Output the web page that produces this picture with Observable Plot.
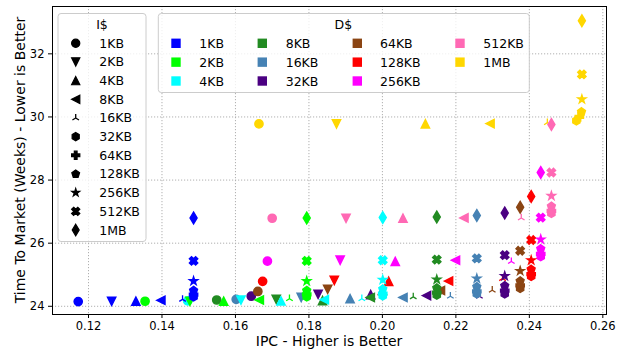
<!DOCTYPE html>
<html>
<head>
<meta charset="utf-8">
<script src="https://cdn.jsdelivr.net/npm/d3@7"></script>
<script src="https://cdn.jsdelivr.net/npm/@observablehq/plot@0.6"></script>
<style>
  body { margin: 0; background: #ffffff; }
  #chart { width: 622px; height: 350px; }
</style>
</head>
<body>
<div id="chart"></div>
<script>
// ---------------- data ----------------
const icacheSizes = ["1KB", "2KB", "4KB", "8KB", "16KB", "32KB", "64KB", "128KB", "256KB", "512KB", "1MB"];
const dcacheSizes = ["1KB", "2KB", "4KB", "8KB", "16KB", "32KB", "64KB", "128KB", "256KB", "512KB", "1MB"];
const dcacheColors = ["#0000ff", "#00ff00", "#00ffff", "#228b22", "#4682b4", "#4b0082", "#8b4513", "#ff0000", "#ff00ff", "#ff69b4", "#ffd700"];
const xTicks = [0.12, 0.14, 0.16, 0.18, 0.20, 0.22, 0.24, 0.26];
const yTicks = [24, 26, 28, 30, 32];

// IPC and time-to-market for each D$ size, listed in I$ order (1KB ... 1MB)
const ipcD1KB   = [0.1172, 0.1263, 0.1329, 0.1397, 0.1456, 0.1486, 0.1486, 0.1486, 0.1486, 0.1486, 0.1486];
const ttmD1KB   = [24.15, 24.16, 24.16, 24.19, 24.22, 24.30, 24.37, 24.50, 24.80, 25.44, 26.80];
const ipcD2KB   = [0.1354, 0.1476, 0.1568, 0.1665, 0.1747, 0.1794, 0.1794, 0.1794, 0.1794, 0.1794, 0.1794];
const ttmD2KB   = [24.16, 24.16, 24.16, 24.20, 24.24, 24.30, 24.38, 24.50, 24.80, 25.44, 26.80];
const ipcD4KB   = [0.1470, 0.1615, 0.1724, 0.1842, 0.1944, 0.2001, 0.2001, 0.2001, 0.2001, 0.2001, 0.2001];
const ttmD4KB   = [24.17, 24.20, 24.17, 24.21, 24.24, 24.33, 24.40, 24.55, 24.84, 25.46, 26.81];
const ipcD8KB   = [0.1549, 0.1711, 0.1837, 0.1967, 0.2084, 0.2148, 0.2148, 0.2148, 0.2148, 0.2148, 0.2148];
const ttmD8KB   = [24.20, 24.22, 24.18, 24.28, 24.30, 24.36, 24.43, 24.58, 24.85, 25.48, 26.83];
const ipcD16KB  = [0.1602, 0.1779, 0.1912, 0.2056, 0.2185, 0.2257, 0.2257, 0.2257, 0.2257, 0.2257, 0.2257];
const ttmD16KB  = [24.22, 24.28, 24.24, 24.28, 24.32, 24.40, 24.47, 24.62, 24.88, 25.52, 26.88];
const ipcD32KB  = [0.1643, 0.1825, 0.1968, 0.2120, 0.2264, 0.2333, 0.2333, 0.2333, 0.2333, 0.2333, 0.2333];
const ttmD32KB  = [24.32, 24.38, 24.37, 24.34, 24.32, 24.40, 24.50, 24.65, 24.96, 25.62, 26.96];
const ipcD64KB  = [0.1661, 0.1851, 0.2000, 0.2158, 0.2299, 0.2375, 0.2375, 0.2375, 0.2375, 0.2375, 0.2375];
const ttmD64KB  = [24.47, 24.54, 24.50, 24.50, 24.51, 24.57, 24.66, 24.80, 25.12, 25.76, 27.14];
const ipcD128KB = [0.1674, 0.1869, 0.2017, 0.2180, 0.2327, 0.2405, 0.2405, 0.2405, 0.2405, 0.2405, 0.2405];
const ttmD128KB = [24.79, 24.82, 24.79, 24.80, 24.88, 24.95, 25.02, 25.17, 25.46, 26.10, 27.48];
const ipcD256KB = [0.1687, 0.1885, 0.2035, 0.2199, 0.2351, 0.2431, 0.2431, 0.2431, 0.2431, 0.2431, 0.2431];
const ttmD256KB = [25.43, 25.46, 25.42, 25.46, 25.42, 25.58, 25.66, 25.82, 26.12, 26.81, 28.24];
const ipcD512KB = [0.1700, 0.1901, 0.2056, 0.2222, 0.2378, 0.2460, 0.2460, 0.2460, 0.2460, 0.2460, 0.2460];
const ttmD512KB = [26.79, 26.79, 26.79, 26.80, 26.80, 26.95, 27.02, 27.17, 27.50, 28.24, 29.76];
const ipcD1MB   = [0.1664, 0.1875, 0.2117, 0.2293, 0.2449, 0.2528, 0.2536, 0.2542, 0.2543, 0.2543, 0.2543];
const ttmD1MB   = [29.78, 29.78, 29.78, 29.79, 29.82, 29.88, 30.00, 30.16, 30.56, 31.35, 33.05];

const ipcByD = [ipcD1KB, ipcD2KB, ipcD4KB, ipcD8KB, ipcD16KB, ipcD32KB, ipcD64KB, ipcD128KB, ipcD256KB, ipcD512KB, ipcD1MB];
const ttmByD = [ttmD1KB, ttmD2KB, ttmD4KB, ttmD8KB, ttmD16KB, ttmD32KB, ttmD64KB, ttmD128KB, ttmD256KB, ttmD512KB, ttmD1MB];

// ---------------- marker shapes (matplotlib-like) ----------------
const U = 4.1;
function poly(c, pts) {
  c.moveTo(pts[0][0], pts[0][1]);
  for (let k = 1; k < pts.length; k++) c.lineTo(pts[k][0], pts[k][1]);
  c.closePath();
}
function regularPts(n, r, inner) {
  const pts = [];
  if (inner) {
    for (let k = 0; k < 2 * n; k++) {
      const a = -Math.PI / 2 + k * Math.PI / n;
      const rr = k % 2 ? r * inner : r;
      pts.push([rr * Math.cos(a), rr * Math.sin(a)]);
    }
  } else {
    for (let k = 0; k < n; k++) {
      const a = -Math.PI / 2 + k * 2 * Math.PI / n;
      pts.push([r * Math.cos(a), r * Math.sin(a)]);
    }
  }
  return pts;
}
const plusPts = [[-1,-3],[1,-3],[1,-1],[3,-1],[3,1],[1,1],[1,3],[-1,3],[-1,1],[-3,1],[-3,-1],[-1,-1]].map(([a,b]) => [a * U / 3, b * U / 3]);
const xPts = [[-1,-2],[0,-1],[1,-2],[2,-1],[1,0],[2,1],[1,2],[0,1],[-1,2],[-2,1],[-1,0],[-2,-1]].map(([a,b]) => [a * U / 2, b * U / 2]);
const L = 2 * U;
const markerShapes = [
  {draw(c) { c.moveTo(U, 0); c.arc(0, 0, U, 0, 2 * Math.PI); c.closePath(); }},          // o
  {draw(c) { poly(c, [[0, U], [-U, -U], [U, -U]]); }},                                    // v
  {draw(c) { poly(c, [[0, -U], [-U, U], [U, U]]); }},                                     // ^
  {draw(c) { poly(c, [[-U, 0], [U, -U], [U, U]]); }},                                     // <
  {draw(c) { c.moveTo(0, 0); c.lineTo(0, -U); c.moveTo(0, 0); c.lineTo(0.8 * U, 0.5 * U); c.moveTo(0, 0); c.lineTo(-0.8 * U, 0.5 * U); }}, // 2
  {draw(c) { poly(c, regularPts(6, U)); }},                                               // h
  {draw(c) { poly(c, plusPts); }},                                                        // P
  {draw(c) { poly(c, regularPts(5, U)); }},                                               // p
  {draw(c) { poly(c, regularPts(5, U, 0.381966)); }},                                     // *
  {draw(c) { poly(c, xPts); }},                                                           // X
  {draw(c) { poly(c, [[0, -0.7071 * L], [0.6 * 0.7071 * L, 0], [0, 0.7071 * L], [-0.6 * 0.7071 * L, 0]]); }} // d
];
const lineMarker = 4;

// ---------------- points table ----------------
const points = [];
icacheSizes.forEach((ic, i) => {
  dcacheSizes.forEach((dc, j) => {
    points.push({ic, i, dc, j, ipc: ipcByD[j][i], ttm: ttmByD[j][i], color: dcacheColors[j]});
  });
});

const dotMarks = icacheSizes.map((ic, i) => Plot.dot(points.filter(p => p.i === i), {
  x: "ipc", y: "ttm",
  symbol: markerShapes[i], r: 4.5,
  fill: i === lineMarker ? "none" : (d => d.color),
  stroke: d => d.color,
  strokeWidth: i === lineMarker ? 1.3 : 1.5
}));

const chart = Plot.plot({
  width: 622, height: 350,
  marginLeft: 52, marginRight: 16, marginTop: 6, marginBottom: 36,
  style: {fontFamily: "DejaVu Sans, sans-serif", fontSize: "11.5px", background: "#ffffff", color: "#000000", overflow: "visible"},
  x: {domain: [0.1102, 0.261], ticks: xTicks, tickFormat: d => d.toFixed(2), label: null, tickSize: 4, tickPadding: 3},
  y: {domain: [23.74, 33.5], ticks: yTicks, tickFormat: d => String(d), label: null, tickSize: 4, tickPadding: 4},
  color: {type: "identity"},
  marks: [
    Plot.ruleX(xTicks, {stroke: "#b0b0b0", strokeWidth: 1, strokeDasharray: "1.2,1.8"}),
    Plot.ruleY(yTicks, {stroke: "#b0b0b0", strokeWidth: 1, strokeDasharray: "1.2,1.8"}),
    ...dotMarks,
    Plot.frame({stroke: "#000000", strokeWidth: 1})
  ]
});
document.getElementById("chart").appendChild(chart);

// ---------------- legends & axis labels ----------------
const svg = d3.select(chart);
function pathFor(shape) { const p = d3.path(); shape.draw(p, 0); return p.toString(); }

// I$ legend
const gI = svg.append("g").attr("font-family", "DejaVu Sans, sans-serif").attr("font-size", "12.5px").attr("text-anchor", "start");
gI.append("rect").attr("x", 58).attr("y", 13.5).attr("width", 88).attr("height", 228)
  .attr("rx", 3).attr("fill", "#ffffff").attr("fill-opacity", 0.8).attr("stroke", "#cccccc").attr("stroke-width", 1);
gI.append("text").attr("x", 102).attr("y", 24).attr("dy", "0.36em").attr("text-anchor", "middle").text("I$");
icacheSizes.forEach((ic, i) => {
  const cy = 43.3 + i * 18.67;
  gI.append("path").attr("d", pathFor(markerShapes[i])).attr("transform", `translate(75.7,${cy})`)
    .attr("fill", i === lineMarker ? "none" : "#000000").attr("stroke", "#000000").attr("stroke-width", i === lineMarker ? 1.3 : 1.2);
  gI.append("text").attr("x", 99.3).attr("y", cy).attr("dy", "0.36em").attr("text-anchor", "start").text(ic);
});

// D$ legend
const gD = svg.append("g").attr("font-family", "DejaVu Sans, sans-serif").attr("font-size", "12.5px").attr("text-anchor", "start");
gD.append("rect").attr("x", 158.3).attr("y", 13.5).attr("width", 371).attr("height", 79)
  .attr("rx", 3).attr("fill", "#ffffff").attr("fill-opacity", 0.8).attr("stroke", "#cccccc").attr("stroke-width", 1);
gD.append("text").attr("x", 343.3).attr("y", 24).attr("dy", "0.36em").attr("text-anchor", "middle").text("D$");
const colMarkX = [176, 262.3, 357.3, 460];
const colTextX = [199.3, 285.7, 380, 483.3];
dcacheSizes.forEach((dc, j) => {
  const col = Math.floor(j / 3), row = j % 3;
  const cy = 43.3 + row * 18.85;
  gD.append("rect").attr("x", colMarkX[col] - 4.7).attr("y", cy - 4.7).attr("width", 9.4).attr("height", 9.4)
    .attr("fill", dcacheColors[j]);
  gD.append("text").attr("x", colTextX[col]).attr("y", cy).attr("dy", "0.36em").attr("text-anchor", "start").text(dc);
});

// axis labels
svg.append("text").attr("x", 329).attr("y", 341).attr("dy", "0.36em").attr("text-anchor", "middle")
  .attr("font-family", "DejaVu Sans, sans-serif").attr("font-size", "14px").text("IPC - Higher is Better");
svg.append("text").attr("transform", "translate(20,160) rotate(-90)").attr("dy", "0.36em").attr("text-anchor", "middle")
  .attr("font-family", "DejaVu Sans, sans-serif").attr("font-size", "14px").text("Time To Market (Weeks) - Lower is Better");
</script>
</body>
</html>
